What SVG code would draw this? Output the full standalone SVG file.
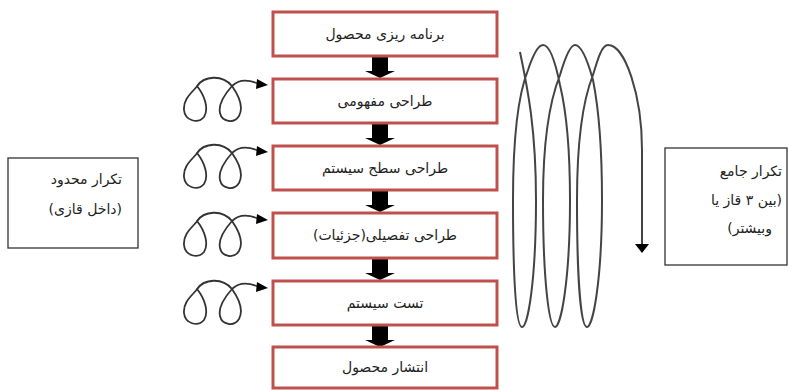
<svg xmlns="http://www.w3.org/2000/svg" width="788" height="390" viewBox="0 0 788 390">
<style>
.box{fill:#fff;stroke:#c0504d;stroke-width:3}
.lbl{font-family:"DejaVu Sans","Noto Sans",sans-serif;font-size:14px;fill:#222;text-anchor:middle}
.side{font-family:"DejaVu Sans","Noto Sans",sans-serif;font-size:14px;fill:#222;text-anchor:start;direction:rtl;unicode-bidi:embed}
.frame{fill:#fff;stroke:#333;stroke-width:1.3}
.curl{fill:none;stroke:#333;stroke-width:1.8}
.coil{fill:none;stroke:#444;stroke-width:2}
.blk{fill:#000}
</style>
<defs>
<g id="loop">
<path class="curl" d="M199,84 C193,92 183,98 184,110 C185,121 198,124 204,117 C209,109 205,96 197,86 C204,76 222,74 232,86 C224,95 218,104 220,113 C222,122 234,124 239,116 C244,107 239,96 232,86 C240,78 250,80 259,84"/>
<polygon class="blk" points="257,79 268,85 256,89"/>
</g>
<g id="darrow">
<rect x="372" y="0" width="16" height="15" class="blk"/>
<polygon class="blk" points="365,14 395,14 380,21"/>
</g>
</defs>

<g id="connectors">
<use href="#darrow" y="57"/>
<use href="#darrow" y="124"/>
<use href="#darrow" y="191"/>
<use href="#darrow" y="259"/>
<use href="#darrow" y="326"/>
<use href="#loop" y="0"/>
<use href="#loop" y="67"/>
<use href="#loop" y="135"/>
<use href="#loop" y="203"/>
<path class="coil" d="M520,52 C528,90 536,130 536,200 C536,280 528,327 522,327 C516,327 513,280 513,200 C513,130 520,90 528,70 C533,55 538,45 543,45 C550,45 556,65 560,85 C566,110 570,150 570,200 C570,280 561,327 555,327 C549,327 543,280 543,200 C543,140 550,100 560,75 C565,58 570,45 575,45 C582,45 588,62 593,80 C598,105 602,150 602,200 C602,280 593,327 587,327 C581,327 577,280 577,200 C577,140 583,100 593,75 C598,58 602,45 608,45 C625,45 642,95 642,150 L642,246"/>
<polygon class="blk" points="635,244 649,244 642,253"/>
</g>

<g id="n1"><rect class="box" x="273" y="12" width="224" height="44"/><text class="lbl" x="385" y="39">برنامه ریزی محصول</text></g>
<g id="n2"><rect class="box" x="273" y="79" width="224" height="44"/><text class="lbl" x="385" y="106">طراحی مفهومی</text></g>
<g id="n3"><rect class="box" x="273" y="146" width="224" height="44"/><text class="lbl" x="385" y="173">طراحی سطح سیستم</text></g>
<g id="n4"><rect class="box" x="273" y="213" width="224" height="45"/><text class="lbl" x="385" y="240">طراحی تفصیلی(جزئیات)</text></g>
<g id="n5"><rect class="box" x="273" y="281" width="224" height="44"/><text class="lbl" x="385" y="308">تست سیستم</text></g>
<g id="n6"><rect class="box" x="273" y="347" width="224" height="41"/><text class="lbl" x="385" y="372">انتشار محصول</text></g>

<g id="limited">
<rect class="frame" x="8" y="158" width="130" height="90"/>
<text class="side" x="122" y="184">تکرار محدود</text>
<text class="side" x="122" y="214">(داخل قازی)</text>
</g>
<g id="global">
<rect class="frame" x="665" y="148" width="122" height="117"/>
<text class="side" x="782" y="176">تکرار جامع</text>
<text class="side" x="782" y="205">(بین ۳ قاز یا</text>
<text class="side" x="772" y="233">وبیشتر)</text>
</g>
</svg>
